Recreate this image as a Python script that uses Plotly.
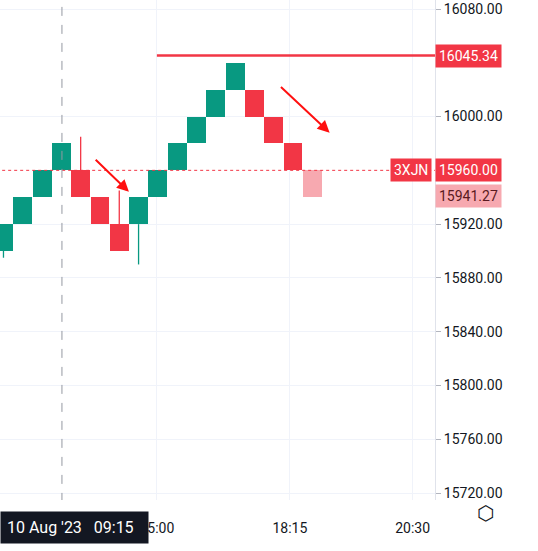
import plotly.graph_objects as go

# renko bricks (index, open, close), box size 20
brick_idx = list(range(1, 18))
brick_open = [15900, 15920, 15940, 15960, 15960, 15940, 15920, 15920, 15940, 15960, 15980, 16000, 16020, 16020, 16000, 15980, 15960]
brick_close = [15920, 15940, 15960, 15980, 15940, 15920, 15900, 15940, 15960, 15980, 16000, 16020, 16040, 16000, 15980, 15960, 15940]
# wicks: (index, low, high)
wick_idx = [1, 5, 7, 8]
wick_lo = [15895, 15960, 15920, 15890]
wick_hi = [15900, 15985, 15945, 15920]

y_ticks = [15720, 15760, 15800, 15840, 15880, 15920, 16000, 16080]
x_tick_pos = [8.95, 15.84, 22.2]
x_tick_text = ["15:00", "18:15", "20:30"]

GREEN = "#089981"
RED = "#f23645"
PINK = "#f7a9b0"

colors = []
for i, (o, c) in enumerate(zip(brick_open, brick_close)):
    if i == len(brick_open) - 1:
        colors.append(PINK)
    else:
        colors.append(GREEN if c > o else RED)

fig = go.Figure()
for i, lo, hi in zip(wick_idx, wick_lo, wick_hi):
    col = colors[i - 1]
    fig.add_trace(go.Scatter(x=[i, i], y=[lo, hi], mode="lines",
                             line=dict(color=col, width=1.3), showlegend=False,
                             hoverinfo="skip"))
fig.add_trace(go.Bar(
    x=brick_idx,
    y=[abs(c - o) for o, c in zip(brick_open, brick_close)],
    base=[min(o, c) for o, c in zip(brick_open, brick_close)],
    width=0.98, marker=dict(color=colors, line=dict(width=0)), showlegend=False,
))

last_price = 15960.00
high_line = 16045.34
current = 15941.27

fig.add_shape(type="line", x0=8.95, x1=24, y0=high_line, y1=high_line,
              line=dict(color=RED, width=2.5))
fig.add_shape(type="line", x0=0, x1=24, y0=last_price, y1=last_price,
              line=dict(color=RED, width=1, dash="dot"))
fig.add_shape(type="line", x0=4.03, x1=4.03, y0=15700, y1=16100,
              line=dict(color="#9598a1", width=1, dash="dash"))

# hand-drawn arrows
fig.add_annotation(x=7.5, y=15944, ax=5.7, ay=15969, xref="x", yref="y",
                   axref="x", ayref="y", showarrow=True, arrowhead=2,
                   arrowsize=1.2, arrowwidth=2, arrowcolor="#ff1010", text="")
fig.add_annotation(x=17.9, y=15988, ax=15.3, ay=16023, xref="x", yref="y",
                   axref="x", ayref="y", showarrow=True, arrowhead=2,
                   arrowsize=1.2, arrowwidth=2, arrowcolor="#ff1010", text="")

# price labels on the axis
def price_tag(y, text, bg, fg="white", x=1.0, anchor="left"):
    fig.add_annotation(x=x, y=y, xref="paper", yref="y", text=text,
                       showarrow=False, xanchor=anchor, bgcolor=bg,
                       font=dict(color=fg, size=14), borderpad=3)

price_tag(high_line, "16045.34", RED)
price_tag(last_price, "15960.00", RED)
price_tag(current, "15941.27", PINK, fg="#5a1a20")
price_tag(last_price, "3XJN", RED, x=0.993, anchor="right")
fig.add_annotation(x=0, y=-0.054, xref="paper", yref="paper",
                   text="10 Aug '23   09:15  ", showarrow=False, xanchor="left",
                   yanchor="middle", bgcolor="#131722",
                   font=dict(color="white", size=16), borderpad=6)
fig.add_annotation(x=1.14, y=-0.054, xref="paper", yref="paper", text="⬡",
                   showarrow=False, font=dict(color="#131722", size=20))

fig.update_layout(
    width=538, height=551,
    margin=dict(l=0, r=103, t=0, b=51),
    plot_bgcolor="white", paper_bgcolor="white",
    font=dict(family="Roboto", size=14, color="#131722"),
    bargap=0,
)
fig.update_xaxes(range=[0.82, 23.36], tickvals=x_tick_pos, ticktext=x_tick_text,
                 showgrid=True, gridcolor="#f0f3fa", zeroline=False,
                 showline=False, ticks="", automargin=False,
                 ticklabelstandoff=18)
fig.update_yaxes(range=[15714.8, 16086.7], side="right", tickvals=y_ticks,
                 tickformat=".2f", showgrid=True, gridcolor="#f0f3fa",
                 zeroline=False, showline=True, linecolor="#e0e3eb",
                 ticks="outside", ticklen=5, tickcolor="#b2b5be", automargin=False)

fig.write_html("out.html", config={"displayModeBar": False},
               post_script="document.body.style.margin='0';")
